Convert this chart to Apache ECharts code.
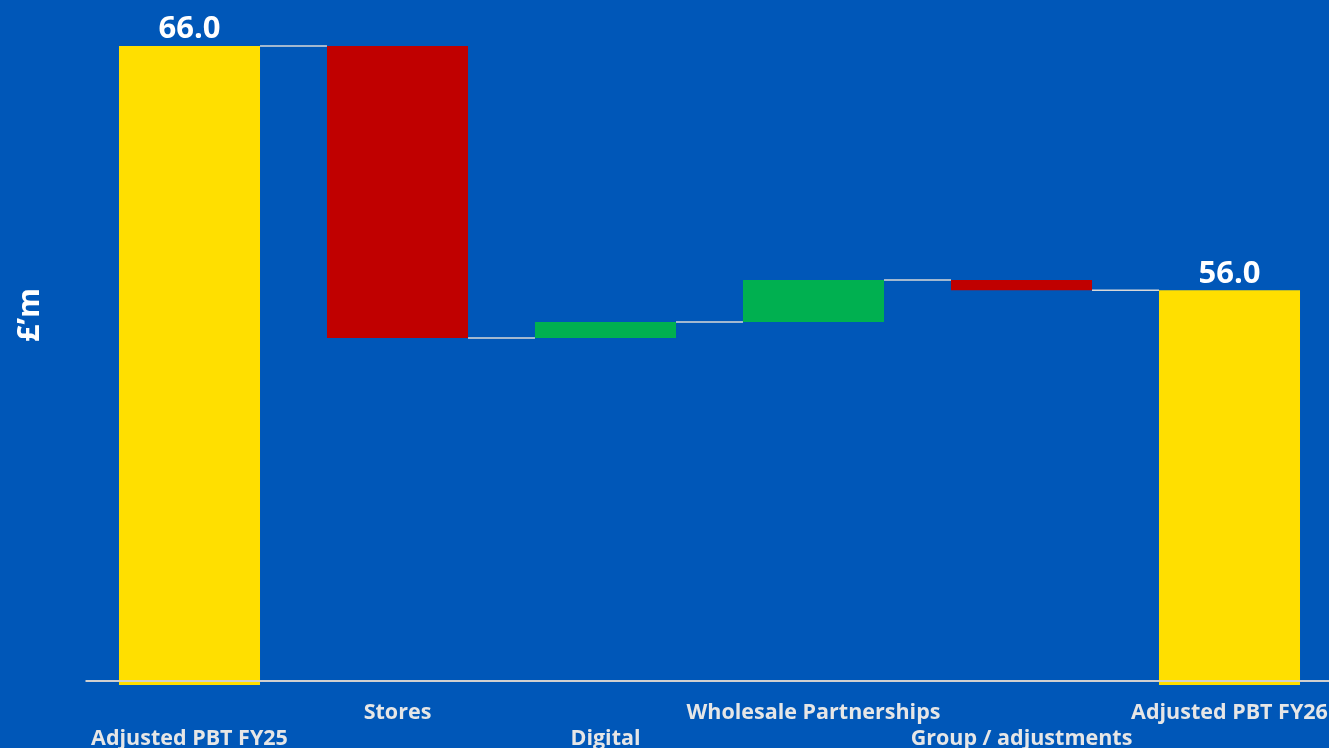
<!DOCTYPE html>
<html>
<head>
<meta charset="utf-8">
<script src="https://cdn.jsdelivr.net/npm/echarts@6/dist/echarts.min.js"></script>
<style>
html,body{margin:0;padding:0;background:#0057B8;overflow:hidden;}
#chart{width:1329px;height:748px;}
</style>
</head>
<body>
<div id="chart"></div>
<script>
const categories = ['Adjusted PBT FY25', 'Stores', 'Digital', 'Wholesale Partnerships', 'Group / adjustments', 'Adjusted PBT FY26'];
const values = [66.0, -11.95, 0.65, 1.72, -0.42, 56.0];
const isTotal = [true, false, false, false, false, true];
const yAxisName = '£’m';

const COLORS = { total: '#FFDF00', up: '#00B050', down: '#C00000' };
const FONT = '"Open Sans", "Noto Sans", sans-serif';

// derive waterfall geometry from the values
const base = [], span = [], barColors = [], levels = [];
let running = 0;
values.forEach((v, i) => {
  if (isTotal[i]) {
    base.push(0); span.push(v); barColors.push(COLORS.total); running = v;
  } else {
    const next = running + v;
    base.push(Math.min(running, next)); span.push(Math.abs(v));
    barColors.push(v >= 0 ? COLORS.up : COLORS.down);
    running = next;
  }
  levels.push(running);
});
const connectors = [];
for (let i = 0; i < values.length - 1; i++) connectors.push([i, levels[i]]);

const BAR_FRAC = 0.678;
const chart = echarts.init(document.getElementById('chart'));
chart.setOption({
  backgroundColor: '#0057B8',
  animation: false,
  grid: { left: 85.5, right: -4.5, top: 46, bottom: 63, containLabel: false, outerBoundsMode: 'none' },
  xAxis: {
    type: 'category',
    data: categories,
    axisLine: { show: false },
    axisTick: { show: false },
    axisLabel: {
      interval: 0,
      margin: 15,
      color: '#E6E6E6',
      fontFamily: FONT,
      fontWeight: 'bold',
      fontSize: 21.5,
      lineHeight: 26,
      hideOverlap: false,
      formatter: (v, i) => (i % 2 === 0 ? '\n' + v : v)
    }
  },
  yAxis: {
    type: 'value',
    min: 39.84,
    max: 66,
    show: false,
    splitLine: { show: false }
  },
  graphic: [{
    type: 'text',
    x: 30,
    y: 315,
    rotation: Math.PI / 2,
    style: {
      text: yAxisName,
      fill: '#FFFFFF',
      font: 'bold 30.5px ' + FONT,
      textAlign: 'center',
      textVerticalAlign: 'middle'
    }
  }],
  series: [
    {
      type: 'bar',
      stack: 'wf',
      barWidth: (BAR_FRAC * 100) + '%',
      itemStyle: { color: 'transparent' },
      data: base,
      silent: true,
      markLine: {
        silent: true,
        symbol: 'none',
        label: { show: false },
        lineStyle: { color: '#D0D0D0', width: 2, type: 'solid' },
        data: [{ yAxis: 40 }]
      }
    },
    {
      type: 'bar',
      stack: 'wf',
      barWidth: (BAR_FRAC * 100) + '%',
      data: span.map((s, i) => ({ value: s, itemStyle: { color: barColors[i] } })),
      label: {
        show: true,
        position: 'top',
        distance: 1,
        color: '#FFFFFF',
        fontFamily: FONT,
        fontWeight: 'bold',
        fontSize: 31,
        formatter: p => (isTotal[p.dataIndex] ? values[p.dataIndex].toFixed(1) : '')
      }
    },
    {
      type: 'custom',
      data: connectors,
      silent: true,
      renderItem: (params, api) => {
        const i = api.value(0);
        const lvl = api.value(1);
        const p1 = api.coord([i, lvl]);
        const p2 = api.coord([i + 1, lvl]);
        const w = api.size([1, 0])[0] * BAR_FRAC;
        return {
          type: 'line',
          shape: { x1: p1[0] + w / 2, y1: p1[1], x2: p2[0] - w / 2, y2: p1[1] },
          style: { stroke: '#D8D8D8', lineWidth: 1.5 }
        };
      }
    }
  ]
});
</script>
</body>
</html>
